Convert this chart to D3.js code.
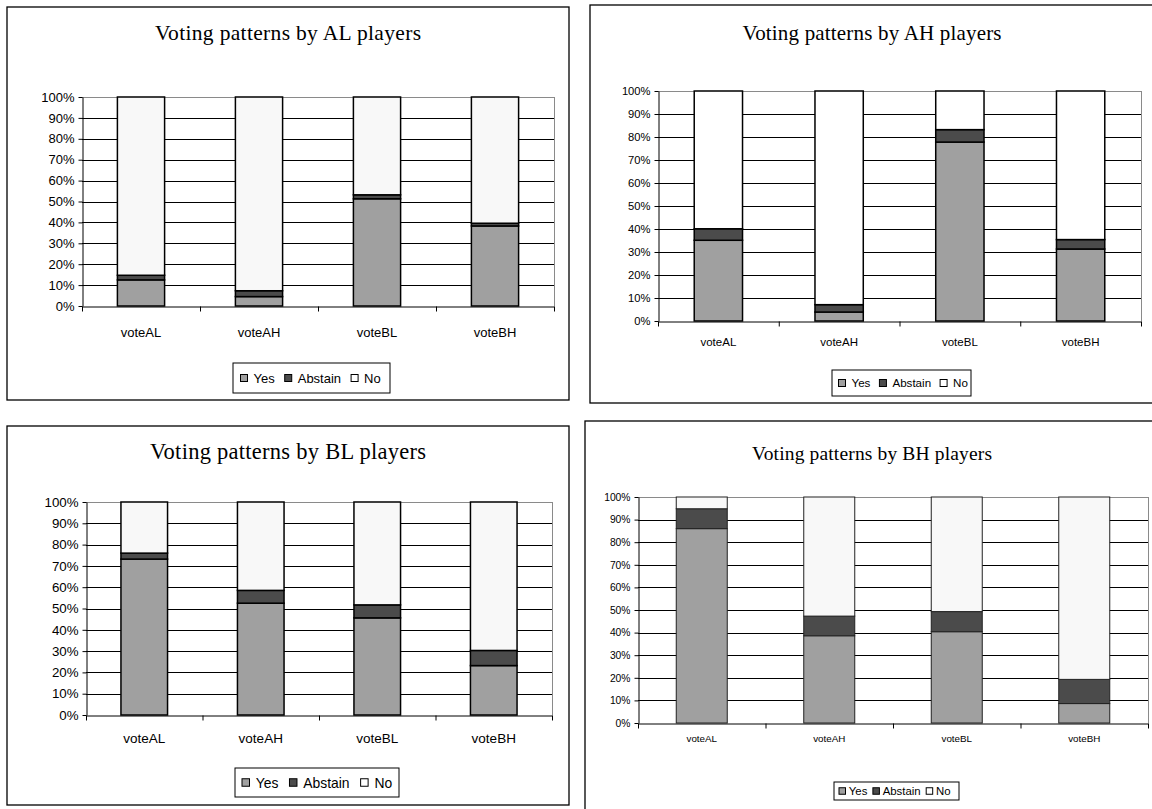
<!DOCTYPE html>
<html><head><meta charset="utf-8">
<script src="https://cdn.jsdelivr.net/npm/d3@7"></script>
<style>body{margin:0;background:#fff}svg{display:block}</style>
</head><body>
<svg id="chart" width="1152" height="809"></svg>
<script>
// ---- data ----
const categories = ["voteAL", "voteAH", "voteBL", "voteBH"];
const seriesNames = ["Yes", "Abstain", "No"];
const tickValues = [0, 10, 20, 30, 40, 50, 60, 70, 80, 90, 100];
const tickLabels = ["0%", "10%", "20%", "30%", "40%", "50%", "60%", "70%", "80%", "90%", "100%"];
const titles = ["Voting patterns by AL players", "Voting patterns by AH players",
                "Voting patterns by BL players", "Voting patterns by BH players"];

const yesAL = [12.5, 4.5, 51.3, 38.3];
const abstainAL = [2.2, 2.8, 1.9, 1.3];
const noAL = [85.3, 92.7, 46.8, 60.4];

const yesAH = [35.1, 3.9, 77.8, 31.3];
const abstainAH = [5.0, 3.2, 5.4, 4.1];
const noAH = [59.9, 92.9, 16.8, 64.6];

const yesBL = [73.2, 52.5, 45.6, 23.2];
const abstainBL = [2.8, 6.0, 6.1, 7.1];
const noBL = [24.0, 41.5, 48.3, 69.7];

const yesBH = [86.0, 38.6, 40.4, 8.6];
const abstainBH = [8.8, 8.7, 8.9, 10.7];
const noBH = [5.2, 52.7, 50.7, 80.7];

// ---- styles / layout ----
const colors = {Yes: "#a0a0a0", Abstain: "#4b4b4b", No: "#f8f8f8"};
const SANS = "'Liberation Sans', Arial, sans-serif";
const SERIF = "'Liberation Serif', 'Times New Roman', serif";

const layouts = [
  {frame: [7, 7, 562, 393], plot: {x0: 82, x1: 554, y0: 97, y1: 306},
   title: {x: 288, y: 40, size: 21.5, len: 266}, yt: 13, cat: {size: 13, y: 332},
   legend: {x: 233, y: 363, w: 157, h: 30, size: 13, pad: 7.5, gapA: 6, gapB: 10, ms: 7},
   barStroke: 1.5, noFill: "#f8f8f8"},
  {frame: [590, 5, 600, 398], plot: {x0: 658, x1: 1141, y0: 91, y1: 321},
   title: {x: 872, y: 40, size: 21, len: 259}, yt: 11.2, cat: {size: 11.5, y: 342},
   legend: {x: 832, y: 370, w: 139, h: 26, size: 11.6, pad: 6.5, gapA: 6, gapB: 9, ms: 7},
   barStroke: 1.5, noFill: "#ffffff"},
  {frame: [7, 426, 562, 379], plot: {x0: 86, x1: 552, y0: 502, y1: 715},
   title: {x: 288, y: 459, size: 22.5, len: 276}, yt: 13.3, cat: {size: 13.5, y: 738},
   legend: {x: 235, y: 768, w: 164, h: 29, size: 13.9, pad: 7, gapA: 6.3, gapB: 11, ms: 7.5},
   barStroke: 1.5, noFill: "#f8f8f8"},
  {frame: [585, 421, 600, 420], plot: {x0: 638, x1: 1148, y0: 497, y1: 723},
   title: {x: 872, y: 460, size: 19.5, len: 240}, yt: 10.3, cat: {size: 9.8, y: 739},
   legend: {x: 834, y: 782, w: 125, h: 18, size: 11.4, pad: 5, gapA: 3.3, gapB: 5.5, ms: 6.5},
   barStroke: 1, noFill: "#f8f8f8"}
];

const panelData = [
  {title: titles[0], yes: yesAL, abstain: abstainAL, no: noAL},
  {title: titles[1], yes: yesAH, abstain: abstainAH, no: noAH},
  {title: titles[2], yes: yesBL, abstain: abstainBL, no: noBL},
  {title: titles[3], yes: yesBH, abstain: abstainBH, no: noBH}
];

const svg = d3.select("#chart");
svg.append("rect").attr("width", 1152).attr("height", 809).attr("fill", "#fff");

panelData.forEach((p, i) => {
  const L = layouts[i];
  const P = L.plot;
  const g = svg.append("g");

  // frame
  g.append("rect")
    .attr("x", L.frame[0]).attr("y", L.frame[1])
    .attr("width", L.frame[2]).attr("height", L.frame[3])
    .attr("fill", "#fff").attr("stroke", "#000").attr("stroke-width", 1.3);

  // title
  g.append("text")
    .attr("x", L.title.x).attr("y", L.title.y)
    .attr("text-anchor", "middle")
    .attr("font-family", SERIF).attr("font-size", L.title.size)
    .attr("textLength", L.title.len).attr("lengthAdjust", "spacing")
    .attr("fill", "#000")
    .text(p.title);

  const x = d3.scaleBand().domain(categories).range([P.x0, P.x1])
    .paddingInner(0.6).paddingOuter(0.3);
  const y = d3.scaleLinear().domain([0, 100]).range([P.y1, P.y0]);

  // gridlines
  g.append("g").selectAll("line")
    .data(tickValues.filter(v => v > 0))
    .join("line")
    .attr("x1", P.x0).attr("x2", P.x1)
    .attr("y1", d => Math.round(y(d)) + 0.5).attr("y2", d => Math.round(y(d)) + 0.5)
    .attr("stroke", d => d === 100 ? "#8a8a8a" : "#000")
    .attr("stroke-width", 1);
  // right plot border
  g.append("line")
    .attr("x1", P.x1 + 0.5).attr("x2", P.x1 + 0.5)
    .attr("y1", y(100)).attr("y2", y(0))
    .attr("stroke", "#8a8a8a").attr("stroke-width", 1);

  // stacked bars
  const rows = categories.map((c, j) => ({cat: c, Yes: p.yes[j], Abstain: p.abstain[j], No: p.no[j]}));
  const stacked = d3.stack().keys(seriesNames)(rows);
  g.append("g").selectAll("g")
    .data(stacked)
    .join("g")
    .attr("fill", d => d.key === "No" ? L.noFill : colors[d.key])
    .selectAll("rect")
    .data(d => d)
    .join("rect")
    .attr("x", d => x(d.data.cat))
    .attr("y", d => y(d[1]))
    .attr("width", x.bandwidth())
    .attr("height", d => y(d[0]) - y(d[1]))
    .attr("stroke", i === 3 ? "#222" : "#000")
    .attr("stroke-width", L.barStroke);

  // y axis
  const ya = g.append("g")
    .attr("transform", `translate(${P.x0 + 0.5},0)`)
    .call(d3.axisLeft(y).tickValues(tickValues)
      .tickFormat((d, k) => tickLabels[k]).tickSize(4).tickSizeOuter(0).tickPadding(4));
  ya.selectAll("path, line").attr("stroke", "#000");
  ya.selectAll("text").attr("font-family", SANS).attr("font-size", L.yt).attr("fill", "#000");

  // x axis with boundary ticks
  const xb = d3.scaleLinear().domain([0, categories.length]).range([P.x0, P.x1]);
  const xa = g.append("g")
    .attr("transform", `translate(0,${P.y1 + 0.5})`)
    .call(d3.axisBottom(xb).tickValues(d3.range(categories.length + 1))
      .tickFormat("").tickSize(5).tickSizeOuter(0));
  xa.selectAll("path, line").attr("stroke", "#000");

  // category labels
  const xl = g.append("g")
    .attr("transform", `translate(0,${L.cat.y})`)
    .call(d3.axisBottom(x).tickSize(0).tickPadding(0));
  xl.select(".domain").remove();
  xl.selectAll("text").attr("dy", "0.35em").attr("y", 0)
    .attr("font-family", SANS).attr("font-size", L.cat.size).attr("fill", "#000");

  // legend
  const Lg = L.legend;
  const lg = g.append("g");
  lg.append("rect")
    .attr("x", Lg.x).attr("y", Lg.y).attr("width", Lg.w).attr("height", Lg.h)
    .attr("fill", "#fff").attr("stroke", "#000").attr("stroke-width", 1);
  let cx = Lg.x + Lg.pad;
  const cy = Lg.y + Lg.h / 2;
  seriesNames.forEach(name => {
    lg.append("rect")
      .attr("x", cx).attr("y", cy - Lg.ms / 2)
      .attr("width", Lg.ms).attr("height", Lg.ms)
      .attr("fill", name === "No" ? "#fff" : colors[name])
      .attr("stroke", "#000").attr("stroke-width", 1);
    const t = lg.append("text")
      .attr("x", cx + Lg.ms + Lg.gapA).attr("y", cy).attr("dy", "0.36em")
      .attr("font-family", SANS).attr("font-size", Lg.size).attr("fill", "#000")
      .text(name);
    cx += Lg.ms + Lg.gapA + t.node().getComputedTextLength() + Lg.gapB;
  });
});
</script>
</body></html>
